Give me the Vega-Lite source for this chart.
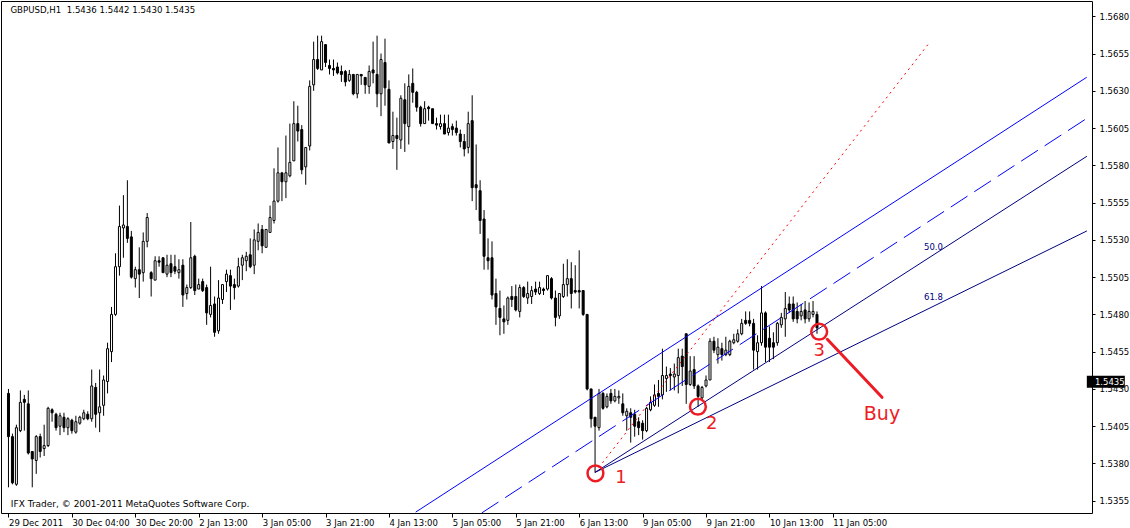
{
  "$schema": "https://vega.github.io/schema/vega-lite/v6.json",
  "width": 1091,
  "height": 512,
  "autosize": {"type": "none"},
  "padding": {"left": 1, "top": 1, "right": 38, "bottom": 15},
  "background": "white",
  "config": {
    "view": {"stroke": "black", "strokeWidth": 1},
    "axis": {"grid": false, "domain": false, "labelFont": "DejaVu Sans", "labelFontSize": 8.5, "labelColor": "black", "tickColor": "black", "tickWidth": 1},
    "text": {"font": "DejaVu Sans"}
  },
  "resolve": {"axis": {"x": "independent", "y": "independent"}},
  "datasets": {
    "bars": [
      {"i":0,"o":1.5427,"h":1.5430,"l":1.5364,"c":1.5398},
      {"i":1,"o":1.5398,"h":1.5400,"l":1.5366,"c":1.5367},
      {"i":2,"o":1.5366,"h":1.5406,"l":1.5365,"c":1.5404},
      {"i":3,"o":1.5402,"h":1.5429,"l":1.5401,"c":1.5421},
      {"i":4,"o":1.5423,"h":1.5426,"l":1.5402,"c":1.5421},
      {"i":5,"o":1.5420,"h":1.5429,"l":1.5386,"c":1.5387},
      {"i":6,"o":1.5388,"h":1.5388,"l":1.5364,"c":1.5383},
      {"i":7,"o":1.5382,"h":1.5399,"l":1.5373,"c":1.5398},
      {"i":8,"o":1.5398,"h":1.5400,"l":1.5384,"c":1.5388},
      {"i":9,"o":1.5390,"h":1.5406,"l":1.5385,"c":1.5392},
      {"i":10,"o":1.5392,"h":1.5418,"l":1.5391,"c":1.5417},
      {"i":11,"o":1.5416,"h":1.5417,"l":1.5408,"c":1.5414},
      {"i":12,"o":1.5413,"h":1.5414,"l":1.5402,"c":1.5404},
      {"i":13,"o":1.5405,"h":1.5414,"l":1.5399,"c":1.5412},
      {"i":14,"o":1.5411,"h":1.5414,"l":1.5401,"c":1.5404},
      {"i":15,"o":1.5404,"h":1.5411,"l":1.5399,"c":1.5410},
      {"i":16,"o":1.5409,"h":1.5410,"l":1.5400,"c":1.5402},
      {"i":17,"o":1.5401,"h":1.5412,"l":1.5400,"c":1.5408},
      {"i":18,"o":1.5407,"h":1.5412,"l":1.5406,"c":1.5411},
      {"i":19,"o":1.5410,"h":1.5416,"l":1.5409,"c":1.5414},
      {"i":20,"o":1.5413,"h":1.5415,"l":1.5409,"c":1.5410},
      {"i":21,"o":1.5410,"h":1.5443,"l":1.5408,"c":1.5432},
      {"i":22,"o":1.5431,"h":1.5434,"l":1.5404,"c":1.5413},
      {"i":23,"o":1.5414,"h":1.5443,"l":1.5401,"c":1.5418},
      {"i":24,"o":1.5419,"h":1.5439,"l":1.5412,"c":1.5436},
      {"i":25,"o":1.5435,"h":1.5461,"l":1.5427,"c":1.5457},
      {"i":26,"o":1.5455,"h":1.5485,"l":1.5448,"c":1.5480},
      {"i":27,"o":1.5480,"h":1.5521,"l":1.5479,"c":1.5512},
      {"i":28,"o":1.5512,"h":1.5553,"l":1.5506,"c":1.5539},
      {"i":29,"o":1.5538,"h":1.5560,"l":1.5518,"c":1.5540},
      {"i":30,"o":1.5539,"h":1.5570,"l":1.5528,"c":1.5531},
      {"i":31,"o":1.5532,"h":1.5536,"l":1.5504,"c":1.5505},
      {"i":32,"o":1.5504,"h":1.5512,"l":1.5498,"c":1.5510},
      {"i":33,"o":1.5510,"h":1.5525,"l":1.5491,"c":1.5507},
      {"i":34,"o":1.5508,"h":1.5535,"l":1.5502,"c":1.5529},
      {"i":35,"o":1.5529,"h":1.5548,"l":1.5525,"c":1.5545},
      {"i":36,"o":1.5508,"h":1.5509,"l":1.5492,"c":1.5504},
      {"i":37,"o":1.5503,"h":1.5519,"l":1.5503,"c":1.5516},
      {"i":38,"o":1.5516,"h":1.5519,"l":1.5512,"c":1.5515},
      {"i":39,"o":1.5518,"h":1.5518,"l":1.5508,"c":1.5508},
      {"i":40,"o":1.5507,"h":1.5520,"l":1.5505,"c":1.5513},
      {"i":41,"o":1.5514,"h":1.5520,"l":1.5505,"c":1.5508},
      {"i":42,"o":1.5512,"h":1.5520,"l":1.5507,"c":1.5509},
      {"i":43,"o":1.5508,"h":1.5517,"l":1.5504,"c":1.5510},
      {"i":44,"o":1.5513,"h":1.5517,"l":1.5485,"c":1.5493},
      {"i":45,"o":1.5494,"h":1.5500,"l":1.5490,"c":1.5498},
      {"i":46,"o":1.5498,"h":1.5542,"l":1.5497,"c":1.5518},
      {"i":47,"o":1.5519,"h":1.5520,"l":1.5493,"c":1.5496},
      {"i":48,"o":1.5497,"h":1.5504,"l":1.5497,"c":1.5500},
      {"i":49,"o":1.5502,"h":1.5504,"l":1.5495,"c":1.5496},
      {"i":50,"o":1.5498,"h":1.5500,"l":1.5473,"c":1.5481},
      {"i":51,"o":1.5480,"h":1.5512,"l":1.5478,"c":1.5486},
      {"i":52,"o":1.5487,"h":1.5492,"l":1.5465,"c":1.5468},
      {"i":53,"o":1.5469,"h":1.5503,"l":1.5467,"c":1.5491},
      {"i":54,"o":1.5490,"h":1.5500,"l":1.5487,"c":1.5500},
      {"i":55,"o":1.5502,"h":1.5510,"l":1.5495,"c":1.5507},
      {"i":56,"o":1.5506,"h":1.5510,"l":1.5483,"c":1.5499},
      {"i":57,"o":1.5500,"h":1.5504,"l":1.5490,"c":1.5498},
      {"i":58,"o":1.5499,"h":1.5518,"l":1.5498,"c":1.5512},
      {"i":59,"o":1.5513,"h":1.5520,"l":1.5503,"c":1.5518},
      {"i":60,"o":1.5516,"h":1.5522,"l":1.5509,"c":1.5519},
      {"i":61,"o":1.5520,"h":1.5531,"l":1.5511,"c":1.5512},
      {"i":62,"o":1.5513,"h":1.5537,"l":1.5507,"c":1.5530},
      {"i":63,"o":1.5529,"h":1.5541,"l":1.5523,"c":1.5535},
      {"i":64,"o":1.5537,"h":1.5540,"l":1.5521,"c":1.5526},
      {"i":65,"o":1.5525,"h":1.5537,"l":1.5525,"c":1.5537},
      {"i":66,"o":1.5535,"h":1.5553,"l":1.5535,"c":1.5545},
      {"i":67,"o":1.5543,"h":1.5578,"l":1.5541,"c":1.5556},
      {"i":68,"o":1.5556,"h":1.5592,"l":1.5555,"c":1.5575},
      {"i":69,"o":1.5575,"h":1.5575,"l":1.5556,"c":1.5569},
      {"i":70,"o":1.5569,"h":1.5600,"l":1.5558,"c":1.5575},
      {"i":71,"o":1.5573,"h":1.5608,"l":1.5572,"c":1.5582},
      {"i":72,"o":1.5583,"h":1.5623,"l":1.5583,"c":1.5608},
      {"i":73,"o":1.5608,"h":1.5620,"l":1.5596,"c":1.5603},
      {"i":74,"o":1.5604,"h":1.5607,"l":1.5574,"c":1.5577},
      {"i":75,"o":1.5579,"h":1.5592,"l":1.5567,"c":1.5592},
      {"i":76,"o":1.5593,"h":1.5637,"l":1.5590,"c":1.5633},
      {"i":77,"o":1.5634,"h":1.5663,"l":1.5630,"c":1.5651},
      {"i":78,"o":1.5651,"h":1.5667,"l":1.5644,"c":1.5645},
      {"i":79,"o":1.5644,"h":1.5667,"l":1.5644,"c":1.5663},
      {"i":80,"o":1.5661,"h":1.5661,"l":1.5646,"c":1.5649},
      {"i":81,"o":1.5647,"h":1.5651,"l":1.5641,"c":1.5645},
      {"i":82,"o":1.5645,"h":1.5651,"l":1.5640,"c":1.5644},
      {"i":83,"o":1.5646,"h":1.5649,"l":1.5641,"c":1.5642},
      {"i":84,"o":1.5643,"h":1.5647,"l":1.5636,"c":1.5641},
      {"i":85,"o":1.5643,"h":1.5644,"l":1.5633,"c":1.5636},
      {"i":86,"o":1.5637,"h":1.5644,"l":1.5636,"c":1.5641},
      {"i":87,"o":1.5641,"h":1.5641,"l":1.5627,"c":1.5628},
      {"i":88,"o":1.5628,"h":1.5641,"l":1.5625,"c":1.5641},
      {"i":89,"o":1.5641,"h":1.5641,"l":1.5634,"c":1.5640},
      {"i":90,"o":1.5639,"h":1.5639,"l":1.5628,"c":1.5634},
      {"i":91,"o":1.5633,"h":1.5647,"l":1.5628,"c":1.5643},
      {"i":92,"o":1.5644,"h":1.5663,"l":1.5635,"c":1.5642},
      {"i":93,"o":1.5641,"h":1.5667,"l":1.5619,"c":1.5628},
      {"i":94,"o":1.5628,"h":1.5655,"l":1.5613,"c":1.5651},
      {"i":95,"o":1.5649,"h":1.5665,"l":1.5620,"c":1.5632},
      {"i":96,"o":1.5631,"h":1.5637,"l":1.5595,"c":1.5595},
      {"i":97,"o":1.5596,"h":1.5616,"l":1.5591,"c":1.5600},
      {"i":98,"o":1.5600,"h":1.5612,"l":1.5577,"c":1.5598},
      {"i":99,"o":1.5597,"h":1.5627,"l":1.5591,"c":1.5625},
      {"i":100,"o":1.5624,"h":1.5635,"l":1.5589,"c":1.5608},
      {"i":101,"o":1.5606,"h":1.5641,"l":1.5594,"c":1.5633},
      {"i":102,"o":1.5635,"h":1.5645,"l":1.5622,"c":1.5629},
      {"i":103,"o":1.5629,"h":1.5630,"l":1.5616,"c":1.5619},
      {"i":104,"o":1.5619,"h":1.5620,"l":1.5606,"c":1.5608},
      {"i":105,"o":1.5608,"h":1.5623,"l":1.5608,"c":1.5618},
      {"i":106,"o":1.5619,"h":1.5620,"l":1.5610,"c":1.5618},
      {"i":107,"o":1.5618,"h":1.5618,"l":1.5608,"c":1.5608},
      {"i":108,"o":1.5608,"h":1.5612,"l":1.5604,"c":1.5607},
      {"i":109,"o":1.5606,"h":1.5614,"l":1.5604,"c":1.5608},
      {"i":110,"o":1.5608,"h":1.5614,"l":1.5601,"c":1.5601},
      {"i":111,"o":1.5602,"h":1.5614,"l":1.5600,"c":1.5605},
      {"i":112,"o":1.5606,"h":1.5608,"l":1.5600,"c":1.5604},
      {"i":113,"o":1.5605,"h":1.5610,"l":1.5600,"c":1.5602},
      {"i":114,"o":1.5601,"h":1.5604,"l":1.5592,"c":1.5596},
      {"i":115,"o":1.5596,"h":1.5601,"l":1.5586,"c":1.5591},
      {"i":116,"o":1.5592,"h":1.5616,"l":1.5588,"c":1.5608},
      {"i":117,"o":1.5610,"h":1.5627,"l":1.5556,"c":1.5565},
      {"i":118,"o":1.5567,"h":1.5594,"l":1.5550,"c":1.5565},
      {"i":119,"o":1.5563,"h":1.5570,"l":1.5534,"c":1.5543},
      {"i":120,"o":1.5544,"h":1.5550,"l":1.5510,"c":1.5519},
      {"i":121,"o":1.5518,"h":1.5531,"l":1.5510,"c":1.5516},
      {"i":122,"o":1.5518,"h":1.5529,"l":1.5490,"c":1.5493},
      {"i":123,"o":1.5494,"h":1.5504,"l":1.5473,"c":1.5485},
      {"i":124,"o":1.5484,"h":1.5496,"l":1.5466,"c":1.5478},
      {"i":125,"o":1.5477,"h":1.5486,"l":1.5467,"c":1.5475},
      {"i":126,"o":1.5476,"h":1.5492,"l":1.5473,"c":1.5491},
      {"i":127,"o":1.5492,"h":1.5499,"l":1.5485,"c":1.5490},
      {"i":128,"o":1.5492,"h":1.5500,"l":1.5482,"c":1.5483},
      {"i":129,"o":1.5482,"h":1.5500,"l":1.5478,"c":1.5498},
      {"i":130,"o":1.5498,"h":1.5499,"l":1.5491,"c":1.5492},
      {"i":131,"o":1.5491,"h":1.5502,"l":1.5487,"c":1.5494},
      {"i":132,"o":1.5492,"h":1.5499,"l":1.5487,"c":1.5496},
      {"i":133,"o":1.5497,"h":1.5502,"l":1.5493,"c":1.5495},
      {"i":134,"o":1.5494,"h":1.5502,"l":1.5493,"c":1.5498},
      {"i":135,"o":1.5497,"h":1.5498,"l":1.5493,"c":1.5496},
      {"i":136,"o":1.5497,"h":1.5506,"l":1.5496,"c":1.5506},
      {"i":137,"o":1.5504,"h":1.5505,"l":1.5490,"c":1.5491},
      {"i":138,"o":1.5491,"h":1.5496,"l":1.5472,"c":1.5478},
      {"i":139,"o":1.5479,"h":1.5494,"l":1.5477,"c":1.5494},
      {"i":140,"o":1.5492,"h":1.5514,"l":1.5491,"c":1.5500},
      {"i":141,"o":1.5500,"h":1.5517,"l":1.5492,"c":1.5504},
      {"i":142,"o":1.5504,"h":1.5515,"l":1.5484,"c":1.5494},
      {"i":143,"o":1.5496,"h":1.5513,"l":1.5494,"c":1.5495},
      {"i":144,"o":1.5496,"h":1.5523,"l":1.5484,"c":1.5495},
      {"i":145,"o":1.5496,"h":1.5496,"l":1.5479,"c":1.5480},
      {"i":146,"o":1.5480,"h":1.5480,"l":1.5429,"c":1.5430},
      {"i":147,"o":1.5430,"h":1.5430,"l":1.5404,"c":1.5410},
      {"i":148,"o":1.5411,"h":1.5411,"l":1.5374,"c":1.5405},
      {"i":149,"o":1.5404,"h":1.5430,"l":1.5402,"c":1.5427},
      {"i":150,"o":1.5427,"h":1.5428,"l":1.5416,"c":1.5417},
      {"i":151,"o":1.5418,"h":1.5427,"l":1.5417,"c":1.5425},
      {"i":152,"o":1.5427,"h":1.5430,"l":1.5420,"c":1.5422},
      {"i":153,"o":1.5422,"h":1.5430,"l":1.5421,"c":1.5425},
      {"i":154,"o":1.5424,"h":1.5429,"l":1.5420,"c":1.5425},
      {"i":155,"o":1.5420,"h":1.5427,"l":1.5412,"c":1.5414},
      {"i":156,"o":1.5412,"h":1.5417,"l":1.5402,"c":1.5415},
      {"i":157,"o":1.5414,"h":1.5417,"l":1.5394,"c":1.5411},
      {"i":158,"o":1.5413,"h":1.5416,"l":1.5398,"c":1.5405},
      {"i":159,"o":1.5408,"h":1.5411,"l":1.5399,"c":1.5404},
      {"i":160,"o":1.5407,"h":1.5409,"l":1.5396,"c":1.5402},
      {"i":161,"o":1.5402,"h":1.5418,"l":1.5401,"c":1.5417},
      {"i":162,"o":1.5416,"h":1.5425,"l":1.5415,"c":1.5421},
      {"i":163,"o":1.5419,"h":1.5433,"l":1.5418,"c":1.5426},
      {"i":164,"o":1.5427,"h":1.5436,"l":1.5418,"c":1.5425},
      {"i":165,"o":1.5426,"h":1.5457,"l":1.5423,"c":1.5439},
      {"i":166,"o":1.5437,"h":1.5445,"l":1.5428,"c":1.5439},
      {"i":167,"o":1.5440,"h":1.5444,"l":1.5429,"c":1.5439},
      {"i":168,"o":1.5438,"h":1.5447,"l":1.5429,"c":1.5440},
      {"i":169,"o":1.5439,"h":1.5457,"l":1.5427,"c":1.5451},
      {"i":170,"o":1.5452,"h":1.5457,"l":1.5432,"c":1.5445},
      {"i":171,"o":1.5467,"h":1.5467,"l":1.5420,"c":1.5433},
      {"i":172,"o":1.5433,"h":1.5452,"l":1.5432,"c":1.5442},
      {"i":173,"o":1.5443,"h":1.5452,"l":1.5430,"c":1.5432},
      {"i":174,"o":1.5432,"h":1.5433,"l":1.5418,"c":1.5425},
      {"i":175,"o":1.5424,"h":1.5432,"l":1.5422,"c":1.5431},
      {"i":176,"o":1.5432,"h":1.5439,"l":1.5431,"c":1.5436},
      {"i":177,"o":1.5436,"h":1.5464,"l":1.5436,"c":1.5462},
      {"i":178,"o":1.5462,"h":1.5465,"l":1.5454,"c":1.5456},
      {"i":179,"o":1.5453,"h":1.5464,"l":1.5447,"c":1.5458},
      {"i":180,"o":1.5457,"h":1.5461,"l":1.5449,"c":1.5453},
      {"i":181,"o":1.5453,"h":1.5465,"l":1.5452,"c":1.5456},
      {"i":182,"o":1.5453,"h":1.5463,"l":1.5452,"c":1.5462},
      {"i":183,"o":1.5461,"h":1.5467,"l":1.5460,"c":1.5463},
      {"i":184,"o":1.5462,"h":1.5470,"l":1.5461,"c":1.5467},
      {"i":185,"o":1.5467,"h":1.5477,"l":1.5466,"c":1.5474},
      {"i":186,"o":1.5476,"h":1.5482,"l":1.5473,"c":1.5474},
      {"i":187,"o":1.5476,"h":1.5482,"l":1.5472,"c":1.5474},
      {"i":188,"o":1.5474,"h":1.5477,"l":1.5443,"c":1.5456},
      {"i":189,"o":1.5455,"h":1.5466,"l":1.5443,"c":1.5461},
      {"i":190,"o":1.5461,"h":1.5499,"l":1.5459,"c":1.5481},
      {"i":191,"o":1.5481,"h":1.5482,"l":1.5448,"c":1.5458},
      {"i":192,"o":1.5464,"h":1.5472,"l":1.5448,"c":1.5458},
      {"i":193,"o":1.5461,"h":1.5468,"l":1.5450,"c":1.5458},
      {"i":194,"o":1.5461,"h":1.5475,"l":1.5459,"c":1.5474},
      {"i":195,"o":1.5473,"h":1.5481,"l":1.5471,"c":1.5478},
      {"i":196,"o":1.5477,"h":1.5495,"l":1.5465,"c":1.5484},
      {"i":197,"o":1.5487,"h":1.5492,"l":1.5481,"c":1.5483},
      {"i":198,"o":1.5487,"h":1.5492,"l":1.5475,"c":1.5477},
      {"i":199,"o":1.5482,"h":1.5488,"l":1.5474,"c":1.5477},
      {"i":200,"o":1.5479,"h":1.5487,"l":1.5476,"c":1.5482},
      {"i":201,"o":1.5483,"h":1.5489,"l":1.5474,"c":1.5477},
      {"i":202,"o":1.5477,"h":1.5488,"l":1.5475,"c":1.5482},
      {"i":203,"o":1.5480,"h":1.5489,"l":1.5478,"c":1.5482},
      {"i":204,"o":1.5480,"h":1.5482,"l":1.5467,"c":1.5471}
    ],
    "lines": [
      {"name":"channel","i":102.75,"p":1.534737,"i2":272.05,"p2":1.563908},
      {"name":"channelmid","i":119.4,"p":1.53468,"i2":272.1,"p2":1.561157},
      {"name":"trend","i":148,"p":1.5374,"i2":232.1,"p2":1.56614},
      {"name":"fan50","i":148,"p":1.5374,"i2":272.1,"p2":1.55861},
      {"name":"fan618","i":148,"p":1.5374,"i2":272.1,"p2":1.5536},
      {"name":"arrow","i":206.6,"p":1.54633,"i2":220.4,"p2":1.542439}
    ],
    "circles": [
      {"i":148.1,"p":1.53734},
      {"i":173.95,"p":1.541808},
      {"i":204.55,"p":1.54684}
    ],
    "texts": [
      {"kind":"num","i":154.55,"p":1.537004,"t":"1"},
      {"kind":"num","i":177.45,"p":1.540647,"t":"2"},
      {"kind":"num","i":204.55,"p":1.545565,"t":"3"},
      {"kind":"buy","i":220.4,"p":1.541318,"t":"Buy"},
      {"kind":"fib","i":231.0,"p":1.552321,"t":"50.0"},
      {"kind":"fib","i":231.0,"p":1.548967,"t":"61.8"},
      {"kind":"info","i":0.5,"p":1.568201,"t":"GBPUSD,H1\u00a0 1.5436 1.5442 1.5430 1.5435"},
      {"kind":"foot","i":0.6,"p":1.53508,"t":"IFX Trader, © 2001-2011 MetaQuotes Software Corp."}
    ],
    "last": [
      {"i":276.875,"ti":274.125,"p":1.543465,"lo":1.543083,"hi":1.543888,"t":"1.5435"}
    ]
  },
  "layer": [
    {
      "data": {"name": "bars"},
      "mark": {"type": "rule", "color": "black", "strokeWidth": 1},
      "encoding": {
        "x": {
          "field": "i", "type": "quantitative",
          "scale": {"domain": [-0.625, 272.125], "nice": false, "zero": false},
          "axis": {
            "title": null,
            "values": [0, 16, 32, 48, 64, 80, 96, 112, 128, 144, 160, 176, 192, 208],
            "labelExpr": "['29 Dec 2011','30 Dec 04:00','30 Dec 20:00','2 Jan 13:00','3 Jan 05:00','3 Jan 21:00','4 Jan 13:00','5 Jan 05:00','5 Jan 21:00','6 Jan 13:00','9 Jan 05:00','9 Jan 21:00','10 Jan 13:00','11 Jan 05:00'][round(datum.value/16)]",
            "labelAlign": "left",
            "labelBaseline": "top",
            "labelPadding": 1,
            "tickSize": 4,
            "labelFlush": false,
            "labelOverlap": false,
            "labelBound": false
          }
        },
        "y": {
          "field": "l", "type": "quantitative",
          "scale": {"domain": [1.534676, 1.569026], "nice": false, "zero": false},
          "axis": {
            "title": null,
            "orient": "right",
            "values": [1.5355, 1.538, 1.5405, 1.543, 1.5455, 1.548, 1.5505, 1.553, 1.5555, 1.558, 1.5605, 1.563, 1.5655, 1.568],
            "format": ".4f",
            "tickSize": 3,
            "labelPadding": 4,
            "labelAlign": "left",
            "labelBaseline": "middle",
            "labelFlush": false,
            "labelOverlap": false,
            "labelBound": false
          }
        },
        "y2": {"field": "h"}
      }
    },
    {
      "data": {"name": "bars"},
      "mark": {"type": "bar", "size": 2, "stroke": "black", "strokeWidth": 1},
      "encoding": {
        "x": {"field": "i", "type": "quantitative", "axis": null},
        "y": {"field": "o", "type": "quantitative", "axis": null},
        "y2": {"field": "c"},
        "fill": {"condition": {"test": "datum.o > datum.c", "value": "black"}, "value": "white"}
      }
    },
    {
      "data": {"name": "lines"},
      "transform": [{"filter": "datum.name === 'channel'"}],
      "mark": {"type": "rule", "color": "#0000FF", "strokeWidth": 1, "clip": true},
      "encoding": {
        "x": {"field": "i", "type": "quantitative", "axis": null},
        "y": {"field": "p", "type": "quantitative", "axis": null},
        "x2": {"field": "i2"},
        "y2": {"field": "p2"}
      }
    },
    {
      "data": {"name": "lines"},
      "transform": [{"filter": "datum.name === 'channelmid'"}],
      "mark": {"type": "rule", "color": "#0000FF", "strokeWidth": 1, "strokeDash": [20, 8], "clip": true},
      "encoding": {
        "x": {"field": "i", "type": "quantitative", "axis": null},
        "y": {"field": "p", "type": "quantitative", "axis": null},
        "x2": {"field": "i2"},
        "y2": {"field": "p2"}
      }
    },
    {
      "data": {"name": "lines"},
      "transform": [{"filter": "datum.name === 'trend'"}],
      "mark": {"type": "rule", "color": "#FF0000", "strokeWidth": 1, "strokeDash": [2, 4], "clip": true},
      "encoding": {
        "x": {"field": "i", "type": "quantitative", "axis": null},
        "y": {"field": "p", "type": "quantitative", "axis": null},
        "x2": {"field": "i2"},
        "y2": {"field": "p2"}
      }
    },
    {
      "data": {"name": "lines"},
      "transform": [{"filter": "datum.name === 'fan50' || datum.name === 'fan618'"}],
      "mark": {"type": "rule", "color": "#000080", "strokeWidth": 1, "clip": true},
      "encoding": {
        "x": {"field": "i", "type": "quantitative", "axis": null},
        "y": {"field": "p", "type": "quantitative", "axis": null},
        "x2": {"field": "i2"},
        "y2": {"field": "p2"}
      }
    },
    {
      "data": {"name": "texts"},
      "transform": [{"filter": "datum.kind === 'fib'"}],
      "mark": {"type": "text", "font": "DejaVu Sans", "fontSize": 8.5, "color": "#000080", "align": "left", "baseline": "alphabetic"},
      "encoding": {
        "x": {"field": "i", "type": "quantitative", "axis": null},
        "y": {"field": "p", "type": "quantitative", "axis": null},
        "text": {"field": "t"}
      }
    },
    {
      "data": {"name": "texts"},
      "transform": [{"filter": "datum.kind === 'info'"}],
      "mark": {"type": "text", "font": "DejaVu Sans", "fontSize": 8.6, "color": "black", "align": "left", "baseline": "alphabetic"},
      "encoding": {
        "x": {"field": "i", "type": "quantitative", "axis": null},
        "y": {"field": "p", "type": "quantitative", "axis": null},
        "text": {"field": "t"}
      }
    },
    {
      "data": {"name": "texts"},
      "transform": [{"filter": "datum.kind === 'foot'"}],
      "mark": {"type": "text", "font": "DejaVu Sans", "fontSize": 9, "color": "black", "align": "left", "baseline": "alphabetic"},
      "encoding": {
        "x": {"field": "i", "type": "quantitative", "axis": null},
        "y": {"field": "p", "type": "quantitative", "axis": null},
        "text": {"field": "t"}
      }
    },
    {
      "data": {"name": "last"},
      "mark": {"type": "bar", "size": 38, "color": "black"},
      "encoding": {
        "x": {"field": "i", "type": "quantitative", "axis": null},
        "y": {"field": "lo", "type": "quantitative", "axis": null},
        "y2": {"field": "hi"}
      }
    },
    {
      "data": {"name": "last"},
      "mark": {"type": "text", "font": "DejaVu Sans", "fontSize": 8.5, "color": "white", "align": "left", "baseline": "middle"},
      "encoding": {
        "x": {"field": "ti", "type": "quantitative", "axis": null},
        "y": {"field": "p", "type": "quantitative", "axis": null},
        "text": {"field": "t"}
      }
    },
    {
      "data": {"name": "lines"},
      "transform": [{"filter": "datum.name === 'arrow'"}],
      "mark": {"type": "rule", "color": "#ED1C24", "strokeWidth": 3, "strokeCap": "round"},
      "encoding": {
        "x": {"field": "i", "type": "quantitative", "axis": null},
        "y": {"field": "p", "type": "quantitative", "axis": null},
        "x2": {"field": "i2"},
        "y2": {"field": "p2"}
      }
    },
    {
      "data": {"name": "circles"},
      "mark": {"type": "point", "shape": "circle", "filled": false, "size": 250, "strokeWidth": 2.5, "color": "#ED1C24", "opacity": 1},
      "encoding": {
        "x": {"field": "i", "type": "quantitative", "axis": null},
        "y": {"field": "p", "type": "quantitative", "axis": null}
      }
    },
    {
      "data": {"name": "texts"},
      "transform": [{"filter": "datum.kind === 'num'"}],
      "mark": {"type": "text", "font": "DejaVu Sans", "fontSize": 18, "color": "#ED1C24", "align": "center", "baseline": "middle"},
      "encoding": {
        "x": {"field": "i", "type": "quantitative", "axis": null},
        "y": {"field": "p", "type": "quantitative", "axis": null},
        "text": {"field": "t"}
      }
    },
    {
      "data": {"name": "texts"},
      "transform": [{"filter": "datum.kind === 'buy'"}],
      "mark": {"type": "text", "font": "DejaVu Sans", "fontSize": 19, "color": "#ED1C24", "align": "center", "baseline": "middle"},
      "encoding": {
        "x": {"field": "i", "type": "quantitative", "axis": null},
        "y": {"field": "p", "type": "quantitative", "axis": null},
        "text": {"field": "t"}
      }
    }
  ]
}
